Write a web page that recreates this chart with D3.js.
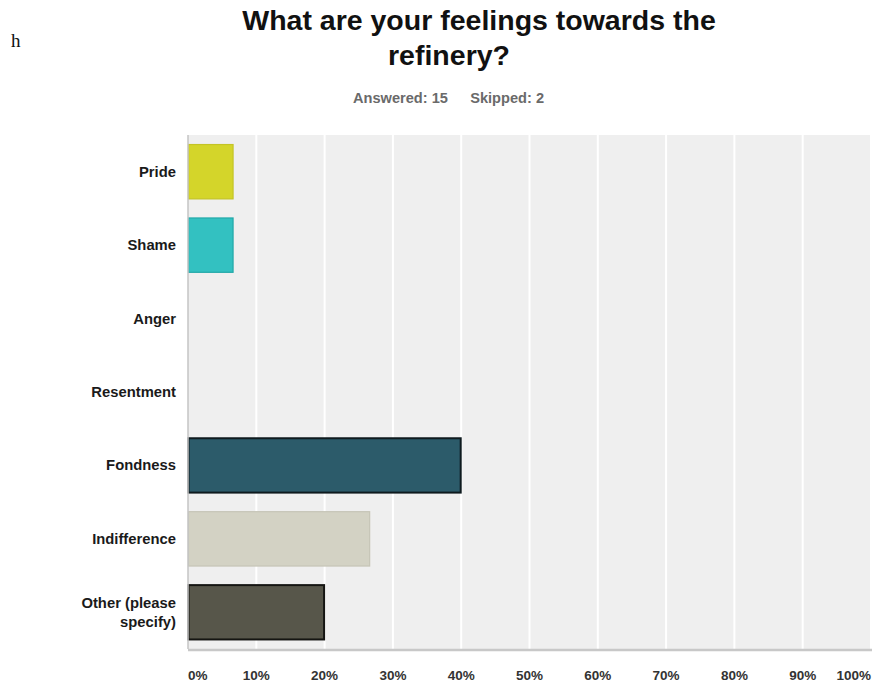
<!DOCTYPE html>
<html>
<head>
<meta charset="utf-8">
<script src="https://cdn.jsdelivr.net/npm/d3@7"></script>
<style>
  html, body { margin: 0; padding: 0; background: #ffffff; }
  svg { display: block; }
</style>
</head>
<body>
<svg id="chart" width="872" height="685"></svg>
<script>
// Survey answers (share of 15 respondents)
const categories = ["Pride", "Shame", "Anger", "Resentment", "Fondness", "Indifference", "Other (please specify)"];
const categoryLines = [["Pride"], ["Shame"], ["Anger"], ["Resentment"], ["Fondness"], ["Indifference"], ["Other (please", "specify)"]];
const percentages = [6.67, 6.67, 0, 0, 40, 26.67, 20];
const barColors = ["#d4d52a", "#33c1c1", "#c05050", "#888888", "#2c5b6a", "#d3d2c4", "#57564a"];
const barStrokes = ["#c4c425", "#22a8a8", "#a04040", "#777777", "#0e1a1e", "#c6c5b6", "#151512"];
const tickValues = [0, 10, 20, 30, 40, 50, 60, 70, 80, 90, 100];
const tickLabels = ["0%", "10%", "20%", "30%", "40%", "50%", "60%", "70%", "80%", "90%", "100%"];

const svg = d3.select("#chart");
const margin = { left: 188, right: 871, top: 135, bottom: 649 };
const font = "'Liberation Sans', Arial, Helvetica, sans-serif";

const x = d3.scaleLinear().domain([0, 100]).range([margin.left, margin.right]);
const y = d3.scaleBand().domain(categories).range([margin.top, margin.bottom])
  .paddingInner(0.26).paddingOuter(0.13);

// Stray heading letter
svg.append("text").attr("x", 11).attr("y", 47)
  .attr("font-family", "'Liberation Serif', 'Times New Roman', serif")
  .attr("font-size", 19).attr("fill", "#111").text("h");

// Title
const title = svg.append("text").attr("text-anchor", "middle")
  .attr("font-family", font).attr("font-weight", "bold").attr("font-size", 28.5).attr("fill", "#111");
title.append("tspan").attr("x", 479).attr("y", 30).text("What are your feelings towards the");
title.append("tspan").attr("x", 449).attr("y", 65).text("refinery?");

// Response counts
svg.append("text").attr("x", 353).attr("y", 103)
  .attr("font-family", font).attr("font-weight", "bold").attr("font-size", 14.6).attr("fill", "#6a6a6a")
  .text("Answered: 15");
svg.append("text").attr("x", 544).attr("y", 103).attr("text-anchor", "end")
  .attr("font-family", font).attr("font-weight", "bold").attr("font-size", 14.6).attr("fill", "#6a6a6a")
  .text("Skipped: 2");

// Plot background
svg.append("rect").attr("x", margin.left).attr("y", margin.top)
  .attr("width", margin.right - margin.left + 1).attr("height", margin.bottom - margin.top)
  .attr("fill", "#efefef");

// Vertical grid lines
svg.append("g").selectAll("line").data(tickValues.slice(1)).join("line")
  .attr("x1", d => x(d)).attr("x2", d => x(d))
  .attr("y1", margin.top).attr("y2", margin.bottom)
  .attr("stroke", "#ffffff").attr("stroke-width", 2);

// Bars
svg.append("g").selectAll("rect").data(categories.map((c, i) => ({ c, v: percentages[i], i })))
  .join("rect")
  .filter(d => d.v > 0)
  .attr("x", x(0) + 0.5)
  .attr("y", d => y(d.c))
  .attr("width", d => x(d.v) - x(0) - 1)
  .attr("height", y.bandwidth())
  .attr("fill", d => barColors[d.i])
  .attr("stroke", d => barStrokes[d.i])
  .attr("stroke-width", d => (d.i === 4 || d.i === 6) ? 2 : 1.2);

// Axis lines
svg.append("line").attr("x1", margin.left).attr("x2", margin.left)
  .attr("y1", margin.top).attr("y2", margin.bottom)
  .attr("stroke", "#c4c4c4").attr("stroke-width", 1.5);
svg.append("line").attr("x1", margin.left).attr("x2", 872)
  .attr("y1", margin.bottom + 1).attr("y2", margin.bottom + 1)
  .attr("stroke", "#c8c8c8").attr("stroke-width", 2.5);

// X tick labels
svg.append("g").selectAll("text").data(tickValues).join("text")
  .attr("x", d => x(d))
  .attr("y", 680)
  .attr("text-anchor", (d, i) => i === 0 ? "start" : (i === tickValues.length - 1 ? "end" : "middle"))
  .attr("font-family", font).attr("font-weight", "bold").attr("font-size", 13.5).attr("fill", "#333")
  .text((d, i) => tickLabels[i]);

// Category labels
const labels = svg.append("g").selectAll("text").data(categories).join("text")
  .attr("text-anchor", "end")
  .attr("font-family", font).attr("font-weight", "bold").attr("font-size", 14.8).attr("fill", "#1a1a1a");
labels.each(function(d, i) {
  const lines = categoryLines[i];
  const cy = y(d) + y.bandwidth() / 2;
  const lh = 19;
  lines.forEach((t, k) => {
    d3.select(this).append("tspan").attr("x", 176)
      .attr("y", cy + 5 + (k - (lines.length - 1) / 2) * lh)
      .text(t);
  });
});
</script>
</body>
</html>
